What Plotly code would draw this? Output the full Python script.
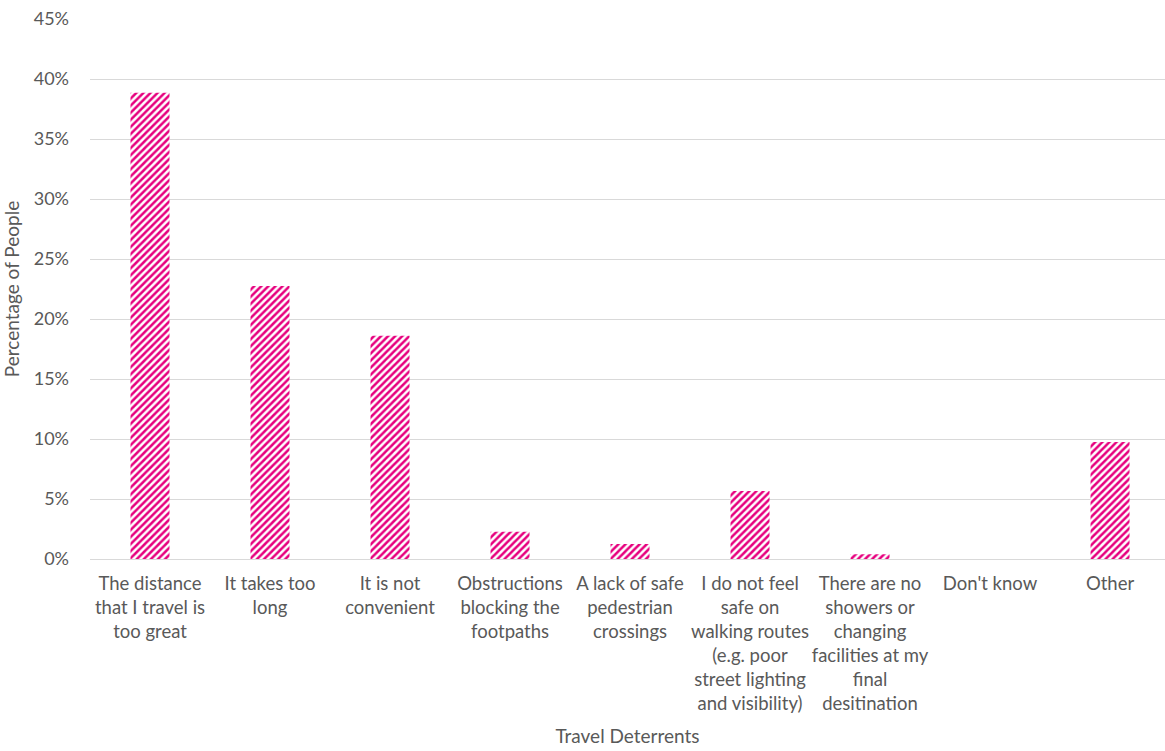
import plotly.graph_objects as go

categories = [
    "The distance<br>that I travel is<br>too great",
    "It takes too<br>long",
    "It is not<br>convenient",
    "Obstructions<br>blocking the<br>footpaths",
    "A lack of safe<br>pedestrian<br>crossings",
    "I do not feel<br>safe on<br>walking routes<br>(e.g. poor<br>street lighting<br>and visibility)",
    "There are no<br>showers or<br>changing<br>facilities at my<br>final<br>desitination",
    "Don't know",
    "Other",
]
values = [0.3886, 0.2275, 0.186, 0.0228, 0.0125, 0.0567, 0.0039, 0.0, 0.0975]
y_ticks = [0, 0.05, 0.10, 0.15, 0.20, 0.25, 0.30, 0.35, 0.40, 0.45]
y_tick_labels = ["0%", "5%", "10%", "15%", "20%", "25%", "30%", "35%", "40%", "45%"]

pink = "#E6007E"
font_fam = "Lato"
txt = "#595959"

fig = go.Figure(go.Bar(
    x=list(range(len(categories))),
    y=values,
    width=0.325,
    marker=dict(
        color="white",
        line=dict(width=0),
        pattern=dict(shape="/", fgcolor=pink, bgcolor="white", fgopacity=1,
                     size=5, solidity=0.5),
    ),
))

fig.update_layout(
    width=1165, height=751,
    margin=dict(l=90, r=0, t=19, b=192),
    plot_bgcolor="white", paper_bgcolor="white",
    font=dict(family=font_fam, color=txt, size=18),
    showlegend=False,
    xaxis=dict(
        tickmode="array",
        tickvals=list(range(len(categories))),
        ticktext=categories,
        range=[-0.5, 8.458],
        showgrid=False, zeroline=False, showline=False,
        ticks="", tickangle=0,
        ticklabelstandoff=11,
        tickfont=dict(size=18.5, color=txt, family=font_fam),
        title=dict(text="Travel Deterrents", font=dict(size=19, color=txt, family=font_fam), standoff=16),
    ),
    yaxis=dict(
        range=[0, 0.45],
        tickmode="array",
        tickvals=y_ticks,
        ticktext=y_tick_labels,
        showgrid=True, gridcolor="#D9D9D9", gridwidth=1,
        zeroline=True, zerolinecolor="#D9D9D9", zerolinewidth=1,
        showline=False, ticks="",
        ticklabelstandoff=20,
        tickfont=dict(size=18, color=txt, family=font_fam),
        title=dict(text="Percentage of People", font=dict(size=19, color=txt, family=font_fam), standoff=10),
    ),
)

fig.write_html("out.html")
